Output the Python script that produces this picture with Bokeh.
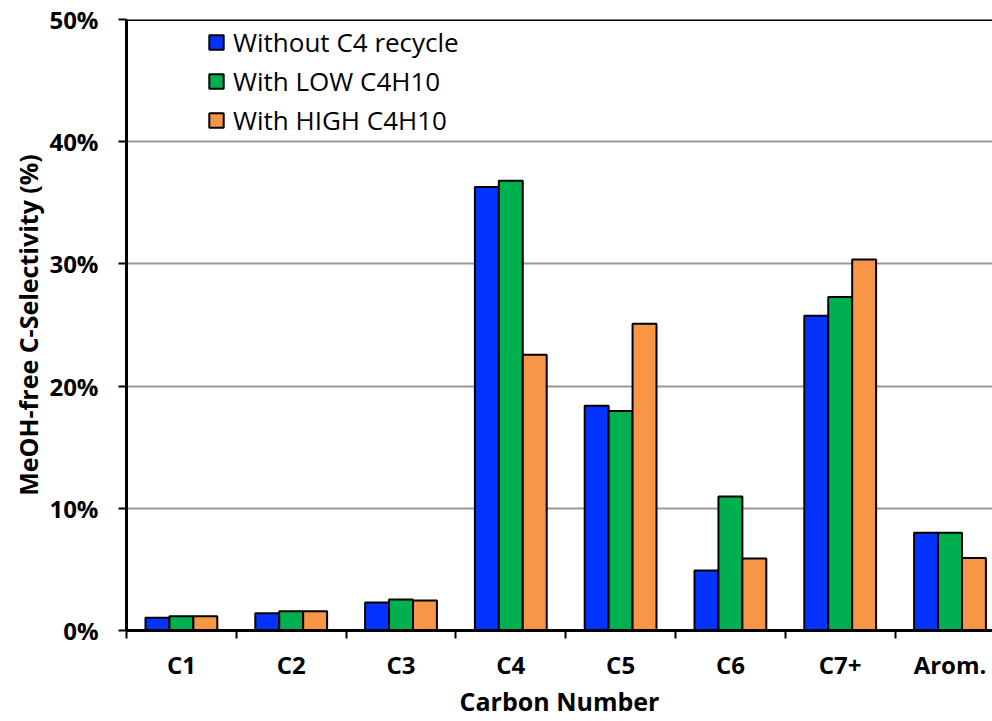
import numpy as np
from bokeh.plotting import figure
from bokeh.models import (Range1d, FixedTicker, PrintfTickFormatter, Legend,
                          LegendItem, Span, ColumnDataSource)
from bokeh.embed import file_html
from bokeh.resources import INLINE

categories = ["C1", "C2", "C3", "C4", "C5", "C6", "C7+", "Arom."]
series_names = ["Without C4 recycle", "With LOW C4H10", "With HIGH C4H10"]
without_c4 = [1.05, 1.42, 2.29, 36.3, 18.4, 4.9, 25.75, 8.0]
low_c4h10 = [1.17, 1.58, 2.53, 36.8, 17.96, 10.96, 27.3, 8.0]
high_c4h10 = [1.17, 1.58, 2.45, 22.56, 25.1, 5.89, 30.36, 5.94]
colors = ["#0433FF", "#00B050", "#F79646"]
y_ticks = [0, 10, 20, 30, 40, 50]

Y_MAX = 50
X_END = 7.887  # visible part of the category axis (last group clipped)
BAR_W = 0.218
FONT = "Open Sans"

p = figure(width=992, height=721, output_backend="svg", toolbar_location=None,
           x_range=Range1d(0, X_END), y_range=Range1d(0, Y_MAX),
           min_border_left=126, min_border_right=0, min_border_top=19,
           min_border_bottom=91)
p.outline_line_color = None
p.background_fill_color = "white"

idx = np.arange(len(categories))
items = []
for k, (vals, name, col) in enumerate(zip([without_c4, low_c4h10, high_c4h10],
                                          series_names, colors)):
    src = ColumnDataSource(dict(x=idx + 0.5 + (k - 1) * BAR_W, top=vals))
    r = p.vbar(x="x", top="top", width=BAR_W, bottom=0, source=src,
               fill_color=col, line_color="black", line_width=2)
    items.append(LegendItem(label=name, renderers=[r]))

# x axis
centers = list(idx + 0.5)
bounds = list(np.arange(len(categories) + 1).astype(float))
xa = p.xaxis[0]
xa.ticker = FixedTicker(ticks=centers, minor_ticks=bounds)
xa.major_label_overrides = {float(c): lab for c, lab in zip(centers, categories)}
xa.major_tick_line_color = None
xa.major_tick_out = 8
xa.major_tick_in = 0
xa.minor_tick_out = 8
xa.minor_tick_in = 0
xa.minor_tick_line_color = "black"
xa.minor_tick_line_width = 2
xa.axis_line_color = "black"
xa.axis_line_width = 3
xa.major_label_text_font = FONT
xa.major_label_text_font_style = "bold"
xa.major_label_text_font_size = "24px"
xa.major_label_text_color = "black"
xa.major_label_standoff = 9
xa.axis_label = "Carbon Number"
xa.axis_label_text_font = FONT
xa.axis_label_text_font_style = "bold"
xa.axis_label_text_font_size = "25px"
xa.axis_label_text_color = "black"
xa.axis_label_standoff = 0

# y axis
ya = p.yaxis[0]
ya.ticker = FixedTicker(ticks=y_ticks, minor_ticks=[])
ya.formatter = PrintfTickFormatter(format="%d%%")
ya.major_tick_out = 8
ya.major_tick_in = 0
ya.major_tick_line_width = 2
ya.major_tick_line_color = "black"
ya.minor_tick_line_color = None
ya.axis_line_color = "black"
ya.axis_line_width = 3
ya.major_label_text_font = FONT
ya.major_label_text_font_style = "bold"
ya.major_label_text_font_size = "24px"
ya.major_label_text_color = "black"
ya.major_label_standoff = 20
ya.axis_label = "MeOH-free C-Selectivity (%)"
ya.axis_label_text_font = FONT
ya.axis_label_text_font_style = "bold"
ya.axis_label_text_font_size = "25px"
ya.axis_label_text_color = "black"
ya.axis_label_standoff = 1

p.xgrid.grid_line_color = None
p.ygrid.ticker = FixedTicker(ticks=y_ticks[1:-1])
p.ygrid.grid_line_color = "#999999"
p.ygrid.grid_line_width = 2

# top border line at the end of the value range
p.add_layout(Span(location=Y_MAX, dimension="width", line_color="black",
                  line_width=3))

legend = Legend(items=items, location=(81, 492), padding=0, margin=0,
                border_line_color=None, background_fill_alpha=0,
                glyph_width=18, glyph_height=18, label_height=20,
                label_standoff=8, spacing=3,
                label_text_font=FONT, label_text_font_size="26px",
                label_text_color="black")
p.add_layout(legend, "center")

open("out.html", "w").write(file_html(p, INLINE))
